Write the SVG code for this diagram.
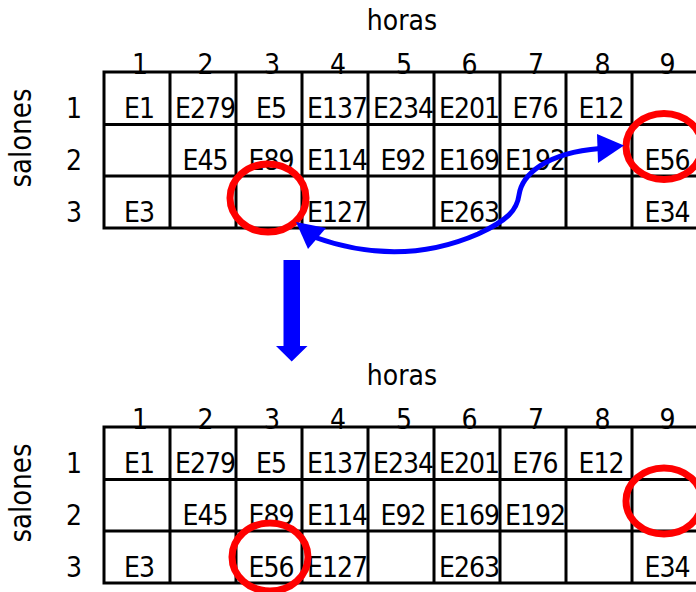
<svg xmlns="http://www.w3.org/2000/svg" width="696" height="592" viewBox="0 0 696 592">
<style>
text{font-family:"DejaVu Sans Condensed","DejaVu Sans",sans-serif;font-stretch:condensed;font-size:28px;fill:#000;text-anchor:middle}
.c{font-size:28px;letter-spacing:-1px}
.g{stroke:#000;stroke-width:3;fill:none}
.ring{fill:none;stroke:#ff0000;stroke-width:7}
.blue{fill:#0000ff}
</style>
<defs>
<g id="gridlines">
<path class="g" d="M104 72H698M104 124.5H698M104 176H698M104 228H698M104 70.5V229.5M170 70.5V229.5M236 70.5V229.5M302 70.5V229.5M368 70.5V229.5M434 70.5V229.5M500 70.5V229.5M566 70.5V229.5M632 70.5V229.5"/>
</g>
<g id="labels">
<text x="402" y="30">horas</text>
<text x="140" y="73.5">1</text><text x="205.5" y="73.5">2</text><text x="272" y="73.5">3</text><text x="338" y="73.5">4</text><text x="404" y="73.5">5</text><text x="469.5" y="73.5">6</text><text x="536" y="73.5">7</text><text x="602.5" y="73.5">8</text><text x="667.5" y="73.5">9</text>
<text x="74" y="118">1</text><text x="74" y="170">2</text><text x="74" y="222">3</text>
<text transform="translate(31 138) rotate(-90)" textLength="99" lengthAdjust="spacingAndGlyphs" style="font-stretch:normal;font-size:31px">salones</text>
</g>
</defs>

<g id="table-before">
<use href="#labels"/>
<g>
<text class="c" x="139" y="118">E1</text><text class="c" x="205" y="118">E279</text><text class="c" x="271" y="118">E5</text><text class="c" x="337" y="118">E137</text><text class="c" x="403" y="118">E234</text><text class="c" x="469" y="118">E201</text><text class="c" x="535" y="118">E76</text><text class="c" x="601" y="118">E12</text>
<text class="c" x="205" y="170">E45</text><text class="c" x="271" y="170">E89</text><text class="c" x="337" y="170">E114</text><text class="c" x="403" y="170">E92</text><text class="c" x="469" y="170">E169</text><text class="c" x="535" y="170">E192</text><text class="c" x="667" y="170">E56</text>
<text class="c" x="139" y="222">E3</text><text class="c" x="337" y="222">E127</text><text class="c" x="469" y="222">E263</text><text class="c" x="667" y="222">E34</text>
</g>
<use href="#gridlines"/>
</g>

<g id="table-after">
<use href="#labels" y="355"/>
<g>
<text class="c" x="139" y="473">E1</text><text class="c" x="205" y="473">E279</text><text class="c" x="271" y="473">E5</text><text class="c" x="337" y="473">E137</text><text class="c" x="403" y="473">E234</text><text class="c" x="469" y="473">E201</text><text class="c" x="535" y="473">E76</text><text class="c" x="601" y="473">E12</text>
<text class="c" x="205" y="525">E45</text><text class="c" x="271" y="525">E89</text><text class="c" x="337" y="525">E114</text><text class="c" x="403" y="525">E92</text><text class="c" x="469" y="525">E169</text><text class="c" x="535" y="525">E192</text>
<text class="c" x="139" y="577">E3</text><text class="c" x="271" y="577">E56</text><text class="c" x="337" y="577">E127</text><text class="c" x="469" y="577">E263</text><text class="c" x="667" y="577">E34</text>
</g>
<use href="#gridlines" y="355"/>
</g>

<g id="circle-top-left"><ellipse class="ring" cx="268" cy="198" rx="38" ry="34"/></g>
<g id="circle-top-right"><ellipse class="ring" cx="664" cy="146.5" rx="38" ry="33"/></g>
<g id="circle-bottom-left"><ellipse class="ring" cx="270" cy="557" rx="38" ry="34"/></g>
<g id="circle-bottom-right"><ellipse class="ring" cx="664" cy="501" rx="38" ry="33"/></g>

<g id="connectors">
<path d="M314 237 Q400 268 478 234 C508 220 517 210 519 195 C522 175 545 153 600 148.5" fill="none" stroke="#0000ff" stroke-width="5"/>
<polygon class="blue" points="296,222 308,249 326,228"/>
<polygon class="blue" points="624,145.5 597,134 598,163"/>
<polygon class="blue" points="283.5,260 300,260 300,346 307.5,346 291.7,361.5 276,346 283.5,346"/>
</g>
</svg>
